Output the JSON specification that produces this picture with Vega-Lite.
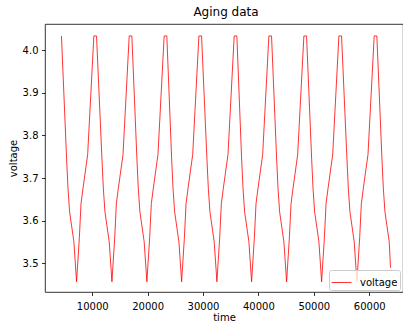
{
  "$schema": "https://vega.github.io/schema/vega-lite/v6.json",
  "width": 358,
  "height": 268,
  "autosize": {"type": "none"},
  "padding": {"left": 45, "top": 24, "right": 0, "bottom": 32},
  "background": "white",
  "title": {"text": "Aging data", "fontSize": 12, "fontWeight": "normal", "font": "DejaVu Sans", "color": "black", "offset": 6, "baseline": "alphabetic", "dx": 2, "dy": 10},
  "data": {"values": [
    {"time": 4450, "voltage": 4.033},
    {"time": 5380, "voltage": 3.745}, {"time": 5630, "voltage": 3.676}, {"time": 5920, "voltage": 3.621}, {"time": 6690, "voltage": 3.551}, {"time": 7180, "voltage": 3.457}, {"time": 7680, "voltage": 3.56}, {"time": 7980, "voltage": 3.64}, {"time": 8330, "voltage": 3.675}, {"time": 9180, "voltage": 3.755}, {"time": 10300, "voltage": 4.033}, {"time": 10780, "voltage": 4.033},
    {"time": 11760, "voltage": 3.745}, {"time": 12010, "voltage": 3.676}, {"time": 12300, "voltage": 3.621}, {"time": 13070, "voltage": 3.551}, {"time": 13560, "voltage": 3.457}, {"time": 14060, "voltage": 3.56}, {"time": 14360, "voltage": 3.64}, {"time": 14710, "voltage": 3.675}, {"time": 15560, "voltage": 3.755}, {"time": 16680, "voltage": 4.033}, {"time": 17160, "voltage": 4.033},
    {"time": 18070, "voltage": 3.745}, {"time": 18320, "voltage": 3.676}, {"time": 18610, "voltage": 3.621}, {"time": 19380, "voltage": 3.551}, {"time": 19870, "voltage": 3.457}, {"time": 20370, "voltage": 3.56}, {"time": 20670, "voltage": 3.64}, {"time": 21020, "voltage": 3.675}, {"time": 21870, "voltage": 3.755}, {"time": 22990, "voltage": 4.033}, {"time": 23470, "voltage": 4.033},
    {"time": 24340, "voltage": 3.745}, {"time": 24590, "voltage": 3.676}, {"time": 24880, "voltage": 3.621}, {"time": 25650, "voltage": 3.551}, {"time": 26140, "voltage": 3.457}, {"time": 26640, "voltage": 3.56}, {"time": 26940, "voltage": 3.64}, {"time": 27290, "voltage": 3.675}, {"time": 28140, "voltage": 3.755}, {"time": 29260, "voltage": 4.033}, {"time": 29740, "voltage": 4.033},
    {"time": 30710, "voltage": 3.745}, {"time": 30960, "voltage": 3.676}, {"time": 31250, "voltage": 3.621}, {"time": 32020, "voltage": 3.551}, {"time": 32510, "voltage": 3.457}, {"time": 33010, "voltage": 3.56}, {"time": 33310, "voltage": 3.64}, {"time": 33660, "voltage": 3.675}, {"time": 34510, "voltage": 3.755}, {"time": 35630, "voltage": 4.033}, {"time": 36110, "voltage": 4.033},
    {"time": 36970, "voltage": 3.745}, {"time": 37220, "voltage": 3.676}, {"time": 37510, "voltage": 3.621}, {"time": 38280, "voltage": 3.551}, {"time": 38770, "voltage": 3.457}, {"time": 39270, "voltage": 3.56}, {"time": 39570, "voltage": 3.64}, {"time": 39920, "voltage": 3.675}, {"time": 40770, "voltage": 3.755}, {"time": 41890, "voltage": 4.033}, {"time": 42370, "voltage": 4.033},
    {"time": 43290, "voltage": 3.745}, {"time": 43540, "voltage": 3.676}, {"time": 43830, "voltage": 3.621}, {"time": 44600, "voltage": 3.551}, {"time": 45090, "voltage": 3.457}, {"time": 45590, "voltage": 3.56}, {"time": 45890, "voltage": 3.64}, {"time": 46240, "voltage": 3.675}, {"time": 47090, "voltage": 3.755}, {"time": 48210, "voltage": 4.033}, {"time": 48690, "voltage": 4.033},
    {"time": 49610, "voltage": 3.745}, {"time": 49860, "voltage": 3.676}, {"time": 50150, "voltage": 3.621}, {"time": 50920, "voltage": 3.551}, {"time": 51410, "voltage": 3.457}, {"time": 51910, "voltage": 3.56}, {"time": 52210, "voltage": 3.64}, {"time": 52560, "voltage": 3.675}, {"time": 53410, "voltage": 3.755}, {"time": 54530, "voltage": 4.033}, {"time": 55010, "voltage": 4.033},
    {"time": 55980, "voltage": 3.745}, {"time": 56230, "voltage": 3.676}, {"time": 56520, "voltage": 3.621}, {"time": 57290, "voltage": 3.551}, {"time": 57780, "voltage": 3.457}, {"time": 58280, "voltage": 3.56}, {"time": 58580, "voltage": 3.64}, {"time": 58930, "voltage": 3.675}, {"time": 59780, "voltage": 3.755}, {"time": 60900, "voltage": 4.033}, {"time": 61380, "voltage": 4.033},
    {"time": 62300, "voltage": 3.745}, {"time": 62550, "voltage": 3.676}, {"time": 62840, "voltage": 3.621}, {"time": 63610, "voltage": 3.551}, {"time": 63850, "voltage": 3.49}
  ]},
  "mark": {"type": "line", "strokeWidth": 0.8, "clip": true},
  "encoding": {
    "x": {"field": "time", "type": "quantitative", "scale": {"domain": [1480, 66100], "nice": false, "zero": false},
          "axis": {"values": [10000, 20000, 30000, 40000, 50000, 60000], "format": "d", "title": "time", "labelPadding": 6, "titlePadding": 1}},
    "y": {"field": "voltage", "type": "quantitative", "scale": {"domain": [3.433, 4.061], "nice": false, "zero": false},
          "axis": {"values": [3.5, 3.6, 3.7, 3.8, 3.9, 4.0], "format": ".1f", "title": "voltage"}},
    "color": {"datum": "voltage", "scale": {"range": ["red"]},
              "legend": {"orient": "none", "legendX": 284, "legendY": 246, "title": null, "symbolType": "stroke", "symbolSize": 400, "symbolStrokeWidth": 0.8, "labelOffset": 8, "labelFontSize": 10, "labelFont": "DejaVu Sans", "labelColor": "black", "padding": 2, "fillColor": "rgba(255,255,255,0.8)", "strokeColor": "#cccccc", "cornerRadius": 2}}
  },
  "config": {
    "view": {"stroke": "black", "strokeWidth": 0.8},
    "axis": {"grid": false, "domain": false, "tickColor": "black", "tickWidth": 0.8, "tickSize": 3.5, "labelFont": "DejaVu Sans", "labelFontSize": 10, "labelColor": "black", "labelPadding": 3.5, "titleFont": "DejaVu Sans", "titleFontSize": 10, "titleFontWeight": "normal", "titleColor": "black", "titlePadding": 4}
  }
}
